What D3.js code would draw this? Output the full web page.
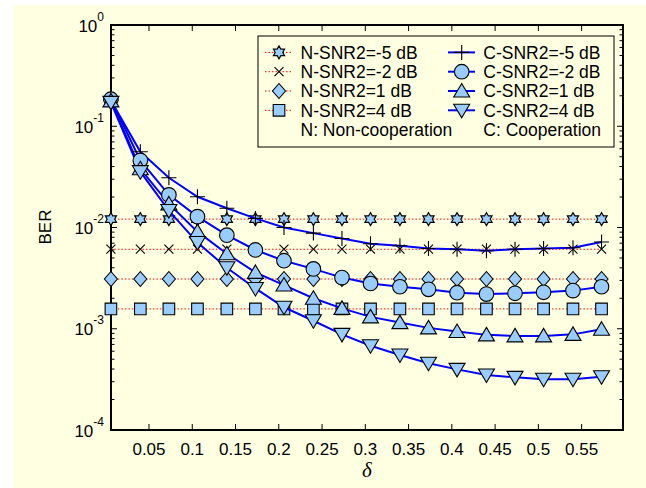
<!DOCTYPE html>
<html><head><meta charset="utf-8">
<script src="https://cdn.jsdelivr.net/npm/d3@7"></script>
<style>
html,body{margin:0;padding:0;background:#fff;}
svg{display:block;}
text{font-family:Arial,"Liberation Sans",Helvetica,sans-serif;fill:#000;}
</style></head>
<body>
<svg id="chart" width="646" height="488"></svg>
<script>
// ---- data ----
const delta = [0.006,0.040,0.073,0.106,0.140,0.173,0.206,0.240,0.273,0.306,0.340,0.373,0.406,0.440,0.473,0.506,0.540,0.573];
const nSnrM5 = [0.0121,0.0121,0.0121,0.0121,0.0121,0.0121,0.0121,0.0121,0.0121,0.0121,0.0121,0.0121,0.0121,0.0121,0.0121,0.0121,0.0121,0.0121];
const nSnrM2 = [0.0061,0.0061,0.0061,0.0061,0.0061,0.0061,0.0061,0.0061,0.0061,0.0061,0.0061,0.0061,0.0061,0.0061,0.0061,0.0061,0.0061,0.0061];
const nSnr1  = [0.0031,0.0031,0.0031,0.0031,0.0031,0.0031,0.0031,0.0031,0.0031,0.0031,0.0031,0.0031,0.0031,0.0031,0.0031,0.0031,0.0031,0.0031];
const nSnr4  = [0.00157,0.00157,0.00157,0.00157,0.00157,0.00157,0.00157,0.00157,0.00157,0.00157,0.00157,0.00157,0.00157,0.00157,0.00157,0.00157,0.00157,0.00157];
const cSnrM5 = [0.180,0.056,0.031,0.0201,0.0155,0.0123,0.0100,0.0088,0.0078,0.0069,0.0066,0.0062,0.0061,0.0059,0.0061,0.0062,0.0063,0.0072];
const cSnrM2 = [0.185,0.046,0.021,0.0128,0.0084,0.0060,0.0047,0.0039,0.0032,0.0028,0.0026,0.00245,0.00227,0.0022,0.00224,0.00229,0.00238,0.0026];
const cSnr1  = [0.178,0.038,0.0171,0.0091,0.0055,0.0036,0.0027,0.0020,0.00159,0.00131,0.00115,0.00102,0.00094,0.00087,0.00085,0.00085,0.00088,0.00099];
const cSnr4  = [0.172,0.0356,0.0147,0.0071,0.0040,0.0025,0.00163,0.0012,0.00088,0.00068,0.00055,0.000456,0.000397,0.000349,0.000331,0.000317,0.000317,0.000336];
const xTicks = [0.05,0.1,0.15,0.2,0.25,0.3,0.35,0.4,0.45,0.5,0.55];
const xTickLabels = ["0.05","0.1","0.15","0.2","0.25","0.3","0.35","0.4","0.45","0.5","0.55"];
const yTicks = [1,0.1,0.01,0.001,0.0001];
const yTickExp = ["0","-1","-2","-3","-4"];
const nLabels = ["N-SNR2=-5 dB","N-SNR2=-2 dB","N-SNR2=1 dB","N-SNR2=4 dB"];
const cLabels = ["C-SNR2=-5 dB","C-SNR2=-2 dB","C-SNR2=1 dB","C-SNR2=4 dB"];
const noteN = "N: Non-cooperation";
const noteC = "C: Cooperation";

// ---- layout ----
const svg = d3.select("#chart");
const L = 111, R = 623, T = 25, B = 430;
const x = d3.scaleLinear().domain([0.0061, 0.5978]).range([L, R]);
const y = d3.scaleLog().domain([1e-4, 1]).range([B, T]);
const FILL = "#99ccff";

svg.append("rect").attr("x",13).attr("y",5).attr("width",633).attr("height",483).attr("fill","#ffffe1");

// marker paths
function hexagram(r){
  const pts=[];
  for(let i=0;i<12;i++){
    const a=-Math.PI/2+i*Math.PI/6;
    const rr = i%2===0 ? r : r/Math.sqrt(3);
    pts.push([rr*Math.cos(a), rr*Math.sin(a)]);
  }
  return "M"+pts.map(p=>p[0].toFixed(2)+","+p[1].toFixed(2)).join("L")+"Z";
}
const markers = {
  hex: {d: hexagram(6.5), fill: FILL},
  x: {d: "M-4.5,-4.5L4.5,4.5M-4.5,4.5L4.5,-4.5", fill: "none"},
  diamond: {d: "M0,-7.5L6.5,0L0,7.5L-6.5,0Z", fill: FILL},
  square: {d: "M-5.8,-5.8H5.8V5.8H-5.8Z", fill: FILL},
  plus: {d: "M-7.5,0H7.5M0,-7.5V7.5", fill: "none"},
  circle: {d: d3.symbol(d3.symbolCircle, Math.PI*7.3*7.3)(), fill: FILL},
  triUp: {d: "M0,-7.5L8,6L-8,6Z", fill: FILL},
  triDown: {d: "M0,7.5L8,-6L-8,-6Z", fill: FILL}
};

const nSeries = [
  {vals:nSnrM5, m:"hex"},{vals:nSnrM2, m:"x"},{vals:nSnr1, m:"diamond"},{vals:nSnr4, m:"square"}
];
const cSeries = [
  {vals:cSnrM5, m:"plus"},{vals:cSnrM2, m:"circle"},{vals:cSnr1, m:"triUp"},{vals:cSnr4, m:"triDown"}
];

const line = d3.line().x((d,i)=>x(delta[i])).y(d=>y(d));

function drawMarker(g, m, cx, cy){
  g.append("path").attr("d", markers[m].d)
   .attr("transform", `translate(${cx},${cy})`)
   .attr("fill", markers[m].fill).attr("stroke","#000").attr("stroke-width",1.1);
}

// axes box ticks
const ax = svg.append("g");
// minor y ticks
const minor = [];
for(let e=-4;e<0;e++){ for(let k=2;k<=9;k++) minor.push(k*Math.pow(10,e)); }
minor.forEach(v=>{
  ax.append("line").attr("x1",L).attr("x2",L+3.5).attr("y1",y(v)).attr("y2",y(v)).attr("stroke","#000").attr("stroke-width",1);
  ax.append("line").attr("x1",R).attr("x2",R-3.5).attr("y1",y(v)).attr("y2",y(v)).attr("stroke","#000").attr("stroke-width",1);
});
yTicks.forEach((v,i)=>{
  ax.append("line").attr("x1",L).attr("x2",L+6).attr("y1",y(v)).attr("y2",y(v)).attr("stroke","#000").attr("stroke-width",1);
  ax.append("line").attr("x1",R).attr("x2",R-6).attr("y1",y(v)).attr("y2",y(v)).attr("stroke","#000").attr("stroke-width",1);
  const t = ax.append("text").attr("x",104).attr("y",y(v)+6.5).attr("text-anchor","end").attr("font-size",17);
  t.append("tspan").text("10");
  t.append("tspan").attr("font-size",12).attr("dy",-11).text(yTickExp[i]);
});
xTicks.forEach((v,i)=>{
  ax.append("line").attr("x1",x(v)).attr("x2",x(v)).attr("y1",B).attr("y2",B-6).attr("stroke","#000").attr("stroke-width",1);
  ax.append("line").attr("x1",x(v)).attr("x2",x(v)).attr("y1",T).attr("y2",T+6).attr("stroke","#000").attr("stroke-width",1);
  ax.append("text").attr("x",x(v)).attr("y",455).attr("text-anchor","middle").attr("font-size",17).text(xTickLabels[i]);
});
ax.append("rect").attr("x",L).attr("y",T).attr("width",R-L).attr("height",B-T).attr("fill","none").attr("stroke","#000").attr("stroke-width",2);

// N series
const gN = svg.append("g");
nSeries.forEach(s=>{
  gN.append("path").attr("d", line(s.vals)).attr("fill","none").attr("stroke","#ff0000").attr("stroke-width",1).attr("stroke-dasharray","1.5,2");
  s.vals.forEach((v,i)=>drawMarker(gN, s.m, x(delta[i]), y(v)));
});
// C series
const gC = svg.append("g");
cSeries.forEach(s=>{
  gC.append("path").attr("d", line(s.vals)).attr("fill","none").attr("stroke","#0000ff").attr("stroke-width",2);
});
cSeries.forEach(s=>{
  s.vals.forEach((v,i)=>drawMarker(gC, s.m, x(delta[i]), y(v)));
});

// legend
const lg = svg.append("g");
lg.append("rect").attr("x",258).attr("y",36).attr("width",356).attr("height",111).attr("fill","#ffffe1").attr("stroke","#000").attr("stroke-width",1);
const rowY = [52.4,71.7,91,110.3];
nSeries.forEach((s,i)=>{
  lg.append("line").attr("x1",265).attr("x2",292).attr("y1",rowY[i]).attr("y2",rowY[i]).attr("stroke","#ff0000").attr("stroke-width",1).attr("stroke-dasharray","1.5,2");
  drawMarker(lg, s.m, 279, rowY[i]);
  lg.append("text").attr("x",300.5).attr("y",rowY[i]+6.3).attr("font-size",17.5).text(nLabels[i]);
});
cSeries.forEach((s,i)=>{
  lg.append("line").attr("x1",448).attr("x2",475).attr("y1",rowY[i]).attr("y2",rowY[i]).attr("stroke","#0000ff").attr("stroke-width",2);
  drawMarker(lg, s.m, 461.7, rowY[i]);
  lg.append("text").attr("x",483.3).attr("y",rowY[i]+6.3).attr("font-size",17.5).text(cLabels[i]);
});
lg.append("text").attr("x",300.5).attr("y",129.6+6.3).attr("font-size",17.5).text(noteN);
lg.append("text").attr("x",483.3).attr("y",129.6+6.3).attr("font-size",17.5).text(noteC);

// axis labels
svg.append("text").attr("transform","translate(51,227) rotate(-90)").attr("text-anchor","middle").attr("font-size",17).text("BER");
svg.append("text").attr("x",367).attr("y",477).attr("text-anchor","middle").attr("font-size",21)
  .attr("font-style","italic").style("font-family","'Liberation Serif','Times New Roman',serif").text("δ");
</script>
</body></html>
